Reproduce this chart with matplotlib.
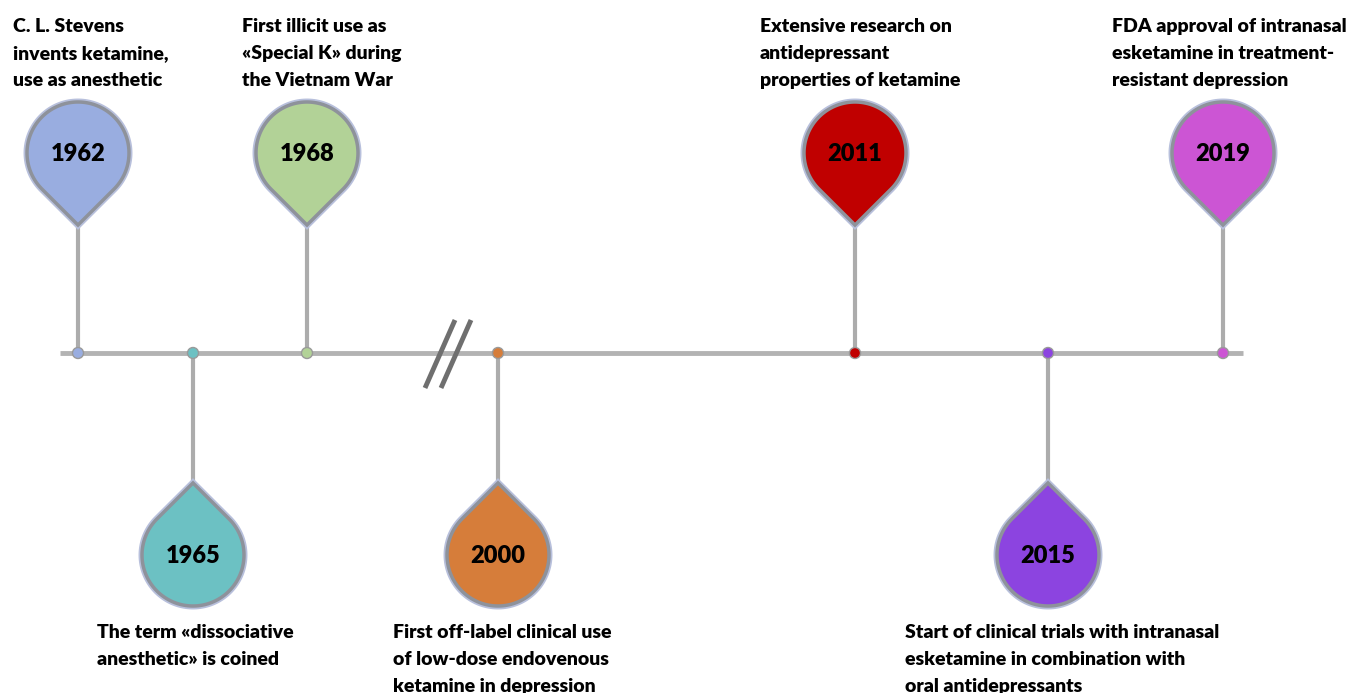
import numpy as np
import matplotlib
import matplotlib.pyplot as plt
from matplotlib.path import Path
from matplotlib.patches import PathPatch, Circle

matplotlib.use("Agg")

# timeline data
years = ["1962", "1965", "1968", "2000", "2011", "2015", "2019"]
descriptions = [
    "C. L. Stevens\ninvents ketamine,\nuse as anesthetic",
    "The term «dissociative\nanesthetic» is coined",
    "First illicit use as\n«Special K» during\nthe Vietnam War",
    "First off-label clinical use\nof low-dose endovenous\nketamine in depression",
    "Extensive research on\nantidepressant\nproperties of ketamine",
    "Start of clinical trials with intranasal\nesketamine in combination with\noral antidepressants",
    "FDA approval of intranasal\nesketamine in treatment-\nresistant depression",
]
sides = ["up", "down", "up", "down", "up", "down", "up"]
colors = ["#99ade0", "#6cc1c3", "#b2d297", "#d67d3a", "#c00000", "#8c44e0", "#cc55d4"]

# layout (pixel coordinates, y downward)
W, H = 1349, 693
x_pos = [78, 193, 307, 498, 855, 1048, 1223]
text_x = [13, 97, 242, 393, 760, 905, 1112]
LINE_Y = 353
R = 51
TIP = 72
FONT = ["Lato", "DejaVu Sans"]


def pin_path(cx, cy, tip_dir):
    # tip_dir = +1 -> tip below centre, -1 -> tip above centre
    a = np.arccos(R / TIP)
    base = np.pi / 2 if tip_dir > 0 else -np.pi / 2
    th = np.linspace(base + a, base + 2 * np.pi - a, 120)
    xs = cx + R * np.cos(th)
    ys = cy + R * np.sin(th)
    verts = list(zip(xs, ys)) + [(cx, cy + tip_dir * TIP), (xs[0], ys[0])]
    codes = [Path.MOVETO] + [Path.LINETO] * (len(verts) - 2) + [Path.CLOSEPOLY]
    return Path(verts, codes)


fig = plt.figure(figsize=(W / 100, H / 100), dpi=100)
ax = fig.add_axes([0, 0, 1, 1])
ax.set_xlim(0, W)
ax.set_ylim(H, 0)
ax.axis("off")

# main line
ax.plot([60, 1243], [LINE_Y, LINE_Y], color="#b3b3b3", lw=3.5, solid_capstyle="butt", zorder=1)

# break marks
for dx in (0, 16):
    ax.plot([425 + dx, 455 + dx], [388, 320], color="#6f6f6f", lw=3.5, solid_capstyle="butt", zorder=2)

for i, year in enumerate(years):
    x = x_pos[i]
    up = sides[i] == "up"
    cy = 153 if up else 555
    tip_y = cy + TIP if up else cy - TIP

    ax.plot([x, x], [tip_y, LINE_Y], color="#acacac", lw=3, zorder=1)
    ax.add_patch(Circle((x, LINE_Y), 5.5, facecolor=colors[i], edgecolor="#9a9a9a", lw=1, zorder=3))

    path = pin_path(x, cy, 1 if up else -1)
    ax.add_patch(PathPatch(path, facecolor="none", edgecolor="#b8c0dc", lw=5, zorder=3))
    ax.add_patch(PathPatch(path, facecolor=colors[i], edgecolor="#8e929b", lw=2.5, zorder=4))
    ax.text(x, cy + 1, year, ha="center", va="center", fontsize=17,
            fontweight="heavy", family=FONT, color="black", zorder=5)

    base_y = 32 if up else 638
    for j, line in enumerate(descriptions[i].split("\n")):
        ax.text(text_x[i], base_y + j * 27, line, ha="left", va="baseline",
                fontsize=14, fontweight="heavy", family=FONT, color="black")

plt.savefig("out.png", dpi=100)
plt.close()
